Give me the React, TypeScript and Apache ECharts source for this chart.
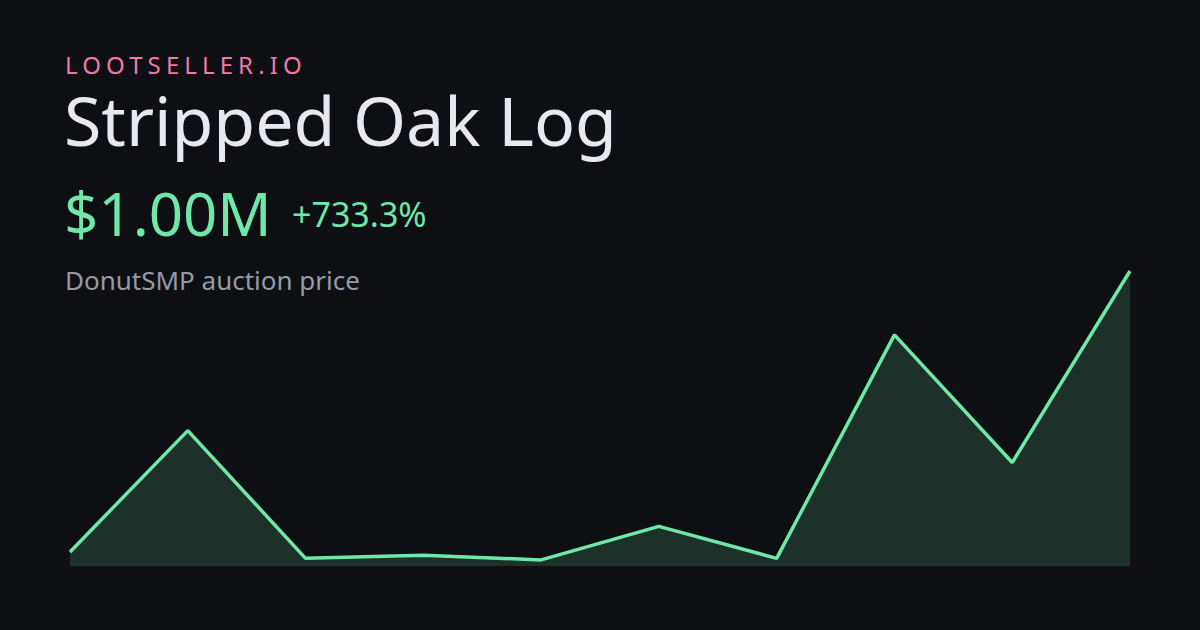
import React, { useEffect, useRef } from "react";
import * as echarts from "echarts";

const categories = ["1", "2", "3", "4", "5", "6", "7", "8", "9", "10"];
const prices = [120000, 500000, 100000, 110000, 95000, 200000, 100000, 800000, 400000, 1000000];
const brand = "LOOTSELLER.IO";
const itemName = "Stripped Oak Log";
const priceLabel = "$1.00M";
const changeLabel = "+733.3%";
const subtitle = "DonutSMP auction price";

const BG = "#0d0f13";
const GREEN = "#6ee7a8";
const FONT = "'Noto Sans', 'Open Sans', sans-serif";

export default function App() {
  const ref = useRef<HTMLDivElement>(null);
  useEffect(() => {
    document.body.style.margin = "0";
    document.body.style.background = BG;
    const chart = echarts.init(ref.current!, null, { renderer: "svg" });
    const mid = (baseline: number, f: number) => baseline - 0.388 * f;
    chart.setOption({
      animation: false,
      backgroundColor: BG,
      grid: { left: 70, right: 70, top: 271, bottom: 64 },
      xAxis: { type: "category", data: categories, boundaryGap: false, show: false },
      yAxis: { type: "value", min: 76000, max: 1000000, show: false, splitLine: { show: false } },
      series: [
        {
          type: "line",
          data: prices,
          symbol: "none",
          lineStyle: { color: GREEN, width: 3.5 },
          areaStyle: { color: "#1e302a", opacity: 1 },
          silent: true,
        },
      ],
      graphic: [
        { type: "text", left: 65, y: mid(74, 24), style: { text: brand, fill: "#ee79a8", font: `400 24px ${FONT}`, verticalAlign: "middle" } },
        { type: "text", left: 64, y: mid(146, 68), style: { text: itemName, fill: "#e8e9ee", font: `400 68px ${FONT}`, verticalAlign: "middle" } },
        { type: "text", left: 64, y: mid(236.5, 60), style: { text: priceLabel, fill: GREEN, font: `400 60px ${FONT}`, verticalAlign: "middle" } },
        { type: "text", left: 292, y: mid(227, 34), style: { text: changeLabel, fill: GREEN, font: `400 34px ${FONT}`, verticalAlign: "middle" } },
        { type: "text", left: 65, y: mid(290, 26), style: { text: subtitle, fill: "#959aa8", font: `400 26px ${FONT}`, verticalAlign: "middle" } },
      ],
    });
    const svgTexts = ref.current!.querySelectorAll("text");
    svgTexts.forEach((t) => {
      if (t.textContent === brand) t.setAttribute("letter-spacing", "5.1px");
    });
    return () => chart.dispose();
  }, []);
  return <div ref={ref} style={{ width: 1200, height: 630 }} />;
}
